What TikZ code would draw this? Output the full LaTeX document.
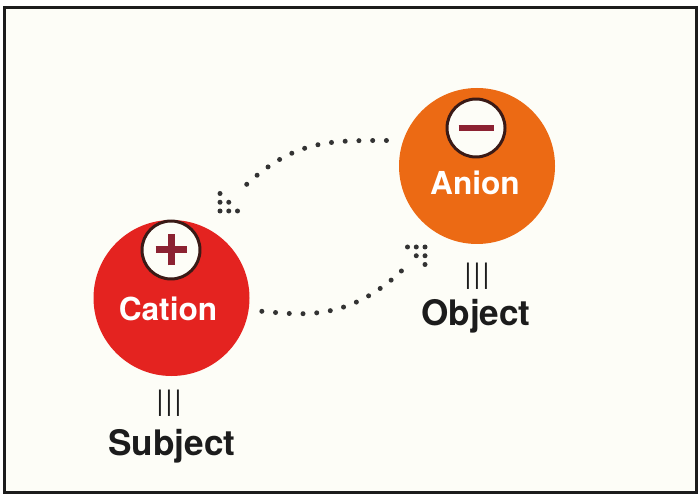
\documentclass[tikz,border=0pt]{standalone}
\usepackage{fontspec}
\setmainfont{TeX Gyre Heros}
\usetikzlibrary{positioning}

\definecolor{cationred}{HTML}{E42320}
\definecolor{anionorange}{HTML}{EC6A14}
\definecolor{signred}{HTML}{8C2232}
\definecolor{rimbrown}{HTML}{3A1A16}
\definecolor{paper}{HTML}{FDFDF7}
\definecolor{dotgray}{HTML}{333333}
\definecolor{ink}{HTML}{1C1C1C}

% little triangle of dots used as arrow head
\tikzset{
  dothead/.pic={
    \foreach \i/\j in {0/0,1/0,2/0,0/1,1/1,0/2}
      \fill[dotgray] (\i*0.175,\j*0.175) circle (0.05);
  }
}

\begin{document}
\begin{tikzpicture}[
    ion/.style={circle, inner sep=0pt, minimum size=3.12cm},
    badge/.style={circle, draw=rimbrown, fill=paper, line
      width=1.7pt, inner sep=0pt, minimum size=1.16cm},
    sign/.style={draw=signred, line width=0.14cm},
    ionlabel/.style={text=white, anchor=base,
      font=\fontsize{18}{18}\selectfont\bfseries},
    role/.style={text=ink, anchor=base,
      font=\fontsize{20}{20}\selectfont\bfseries},
    same/.style={text=ink, font=\fontsize{16}{16}\selectfont},
    dotline/.style={draw=dotgray, line width=0.1cm, line cap=round,
      dash pattern=on 0pt off 0.275cm}
  ]
  \useasboundingbox (0,0) rectangle (13.98,9.90);
  \draw[fill=paper, draw=ink, line width=0.06cm] (0.08,0.06)
  rectangle (13.92,9.74);

  \node [ion, fill=cationred] (cation) at (3.43,3.94) {};
  \node [ion, fill=anionorange] (anion) at (9.54,6.58) {};

  \node [badge] (plus) at (3.42,4.90) {};
  \draw [sign] ([xshift=-0.31cm]plus.center) --
  ([xshift=0.31cm]plus.center);
  \draw [sign] ([yshift=-0.31cm]plus.center) --
  ([yshift=0.31cm]plus.center);

  \node [badge] (minus) at (9.52,7.34) {};
  \draw [sign, line width=0.12cm] ([xshift=-0.35cm]minus.center) --
  ([xshift=0.35cm]minus.center);

  \node [ionlabel] (cation_txt) at (3.36,3.50) {Cation};
  \node [ionlabel] (anion_txt) at (9.50,6.00) {Anion};

  \node [same] (cation_eq) at (3.38,1.84) {|\kern1pt|\kern1pt|};
  \node [role] (cation_role) at (3.44,0.80) {Subject};
  \node [same] (anion_eq) at (9.54,4.38) {|\kern1pt|\kern1pt|};
  \node [role] (anion_role) at (9.52,3.40) {Object};

  % dotted arrows between the two ions
  \coordinate (tipL) at (4.40,5.68);
  \coordinate (tipR) at (8.50,4.96);

  \draw [dotline, shorten <=0.33cm, shorten >=0.5cm] (anion.161)
  .. controls +(-1.5,0) and +(1.41,1.43) .. (tipL);
  \pic at (tipL) {dothead};

  \draw [dotline, shorten <=0.26cm, shorten >=0.5cm] (cation.-9)
  .. controls +(0.99,-0.08) and +(-1.5,-1.54) .. (tipR);
  \pic [rotate=180] at (tipR) {dothead};

\end{tikzpicture}
\end{document}
